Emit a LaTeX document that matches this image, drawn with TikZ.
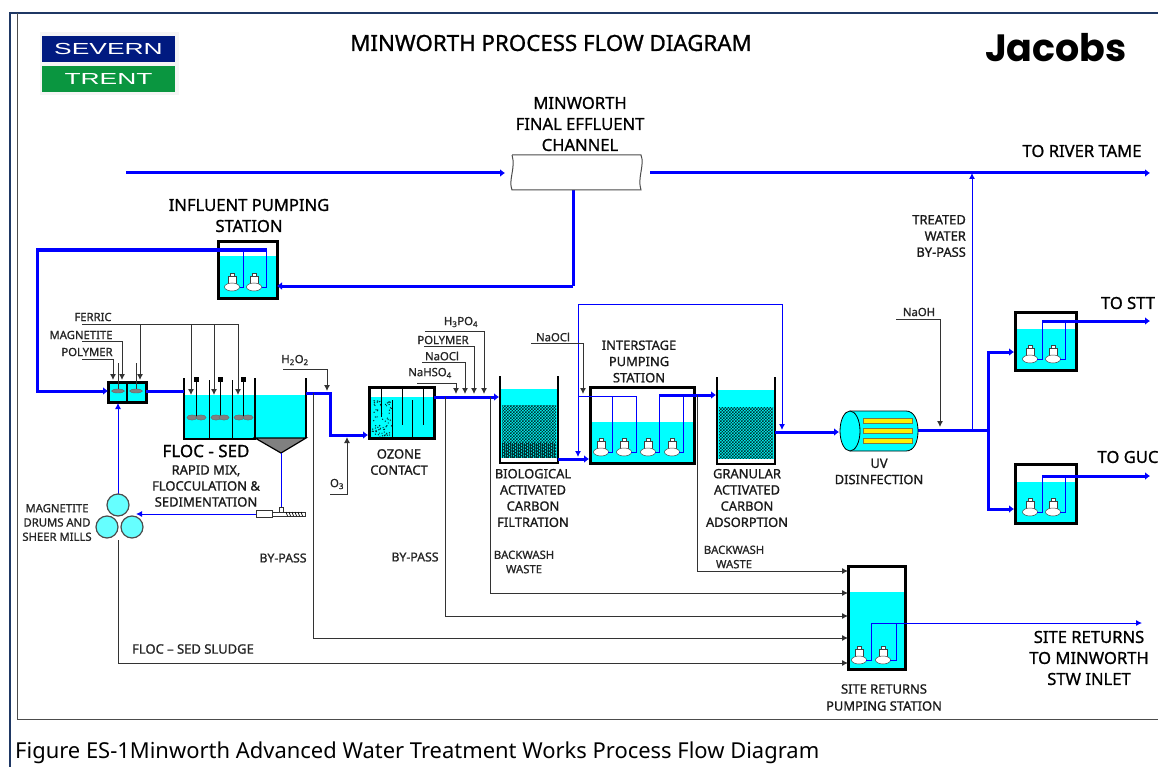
\documentclass[tikz,border=0pt]{standalone}
\usepackage{amsmath}
\usepackage{fontspec}
\setmainfont{Noto Sans}[FakeBold=1]
\newfontfamily\captionfont{Noto Sans}
\newfontfamily\logofont{Liberation Sans}
\newfontfamily\jacobsfont{Poppins}
\usetikzlibrary{shapes.geometric, arrows.meta, patterns}
\usepackage{xcolor}
\definecolor{waterc}{HTML}{00FFFF}
\definecolor{pipeblue}{HTML}{0000FF}
\definecolor{framenavy}{HTML}{1F3864}
\definecolor{drumc}{HTML}{66FFFF}
\definecolor{inkc}{HTML}{1A1A1A}
\definecolor{sevblue}{HTML}{001A80}
\definecolor{trentgreen}{HTML}{0A9640}
\definecolor{mediac}{HTML}{003333}
\pgfdeclarepatternformonly{mediacheck}{\pgfqpoint{-0.1pt}{-0.1pt}}{\pgfqpoint{3.1pt}{3.1pt}}{\pgfqpoint{3pt}{3pt}}{
    \pgfpathrectangle{\pgfqpoint{0pt}{0pt}}{\pgfqpoint{1.5pt}{1.5pt}}
    \pgfpathrectangle{\pgfqpoint{1.5pt}{1.5pt}}{\pgfqpoint{1.5pt}{1.5pt}}
    \pgfusepath{fill}
}
\pgfdeclarepatternformonly{mediastripe}{\pgfqpoint{-0.1pt}{-0.1pt}}{\pgfqpoint{2.1pt}{2.1pt}}{\pgfqpoint{2pt}{2pt}}{
    \pgfpathrectangle{\pgfqpoint{0pt}{0pt}}{\pgfqpoint{1pt}{2pt}}
    \pgfusepath{fill}
}
\tikzset{
    pipe/.style={pipeblue, line width=3pt, -{Latex[length=5pt,width=8pt]}},
    pipeplain/.style={pipeblue, line width=3pt, line join=round},
    thinblue/.style={pipeblue, line width=0.9pt},
    thinarrow/.style={pipeblue, line width=0.9pt, -{Latex[length=6pt,width=6pt]}},
    dose/.style={black!80, line width=0.9pt, -{Latex[length=6pt,width=6pt]}},
    tankbox/.style={draw=black, line width=3pt, minimum width=#1, inner sep=0pt, outer sep=0pt},
    opentank/.style={minimum width=#1, inner sep=0pt, outer sep=0pt},
    wall/.style={black, line width=2.2pt},
    water/.style={fill=waterc},
    lbl/.style={inkc, font=\fontsize{12.9}{16.2}\selectfont, inner sep=0pt, align=center},
    lblsm/.style={black!85, font=\fontsize{11.3}{14.3}\selectfont, inner sep=0pt, align=center},
    lblbig/.style={black, font=\fontsize{16.6}{21}\selectfont, inner sep=0pt, align=center}
}
\begin{document}
\begin{tikzpicture}[x=1pt,y=-1pt]
    \useasboundingbox (0,0) rectangle (1158,767);
    \fill[white] (0,0) rectangle (1158,767);
    \draw[framenavy, line width=2pt] (1158,13) -- (10,13) -- (10,767);
    \draw[black!70, line width=1pt] (1158,719) -- (17,719) -- (17,13);

    \fill[black!4] (40,32) rectangle (179,95);
    \node[fill=sevblue, minimum width=133, minimum height=26, inner sep=0pt, text=white, font=\logofont\fontsize{16}{16}\selectfont] (severn) at (108.5,49) {\scalebox{1.65}[1]{SEVERN}};
    \node[fill=trentgreen, minimum width=133, minimum height=26, inner sep=0pt, text=white, font=\logofont\fontsize{16}{16}\selectfont] (trent) at (108.5,79) {\scalebox{1.65}[1]{TRENT}};
    \node[font=\fontsize{22.3}{26}\selectfont, inner sep=0pt] (title) at (551,43) {MINWORTH PROCESS FLOW DIAGRAM};
    \node[font=\jacobsfont\bfseries\fontsize{38}{40}\selectfont, inner sep=0pt] (jacobs) at (1056,48) {Jacobs};
    \node[font=\captionfont\fontsize{21.95}{26}\selectfont, anchor=west, inner sep=0pt] (caption) at (15,752.5) {Figure ES-1Minworth Advanced Water Treatment Works Process Flow Diagram};

    \foreach \cname/\cx/\cy in {
        feedstart/126/173, chanin/505/173, chanout/643/173, rivertame/1150/173, chanbot/573/190,
        retcorner/573/286, influentin/277/286, inftop/267/250, infleft/37/250, mixleft/37/391,
        mixin/108/391, mixout/146/391, flocin/184/391, sedout/306/393, sedturn/330/393,
        sedlow/330/435, ozin/368/435, ozout/434/397, bafin/499/397, bafout/558/459, ispsin/589/459,
        ispsrise/659/395, gacin/716/395, gacout/775/432, uvin/839/432, uvout/918/430, splitj/988/430,
        splittop/988/352, splitbot/988/509, sttin/1014/352, gucin/1014/509, sttstart/1042/321,
        sttend/1150/321, gucstart/1042/476, gucend/1150/476, bypassj/972/430, bypasstop/972/173,
        wastea/697/395, wasteb/490/397, wastec/445/397, wasted/313/393, sludgetop/118/540,
        sitea/848/571, siteb/848/593, sitec/848/616, sited/848/638, sitee/848/663,
        siteout/1142/623, sitepa/871/623, sitepb/896/623, hopperbot/281/453, screwtop/281/507,
        screwleft/256/514, drumin/136/514, drumtop/118/494, mixbot/118/403,
        recycleleft/578/304, recycleright/782/304, recycleend/782/430, recyclelow/578/457
    } \coordinate (\cname) at (\cx,\cy);

    \fill[water] (184,395) rectangle (306,439);
    \fill[water] (219,256) rectangle (276,297);
    \fill[water] (109,384) rectangle (145,401);
    \fill[water] (370,397) rectangle (433,437);
    \fill[water] (591,422) rectangle (693,462);
    \fill[water] (1016,329) rectangle (1075,369);
    \fill[water] (1016,482) rectangle (1075,522);
    \fill[water] (849,592) rectangle (904,668);
    \fill[water] (501,389) rectangle (557,458);
    \fill[water] (718,390) rectangle (774,459);

    \node[tankbox=59, minimum height=56] (influent) at (247.5,270) {};
    \node[tankbox=38, minimum height=20] (mixbox) at (127,392) {};
    \node[opentank=122, minimum height=61] (flocsed) at (245,408.5) {};
    \node[tankbox=65, minimum height=51] (ozone) at (401.5,412.5) {};
    \node[opentank=58, minimum height=87] (baf) at (529,419.5) {};
    \node[tankbox=104, minimum height=76] (isps) at (642,425) {};
    \node[opentank=58, minimum height=87] (gac) at (746,420.5) {};
    \node[tankbox=61, minimum height=58] (sttbox) at (1045.5,341) {};
    \node[tankbox=61, minimum height=59] (gucbox) at (1045.5,493.5) {};
    \node[tankbox=57, minimum height=103] (sitebox) at (876.5,617.5) {};

    \fill[pattern=mediacheck, pattern color=mediac] (502,405) rectangle (556,458);
    \fill[pattern=mediastripe, pattern color=mediac] (502,443) rectangle (556,458);
    \fill[pattern=mediacheck, pattern color=mediac] (719,407) rectangle (773,459);
    \fill[white] (502,458) rectangle (556,462);
    \fill[white] (719,459) rectangle (773,463);
    \draw[wall] (baf.north west) |- (baf.south east) -- (baf.north east);
    \draw[wall] (gac.north west) |- (gac.south east) -- (gac.north east);

    \draw[wall] (184,378) |- (255,439) -- (255,378);
    \draw[wall] (306,378) -- (306,438);
    \filldraw[fill=gray, draw=black, line width=1.2pt] (255,438) -- (281,453) -- (306,438) -- cycle;
    \draw[black, line width=0.8pt] (209,380) -- (209,439);
    \draw[black, line width=0.8pt] (232,380) -- (232,439);
    \foreach \mx/\ea/\eb in {196/192/201, 220/216/224, 243/239/248} {
        \draw[black, line width=0.8pt] (\mx,379) -- (\mx,417);
        \fill[black] (\mx-2.5,376.5) rectangle (\mx+2.5,381.5);
        \filldraw[fill=gray, draw=black!60, line width=0.4pt] (\ea,417.5) ellipse (5 and 2.6);
        \filldraw[fill=gray, draw=black!60, line width=0.4pt] (\eb,417.5) ellipse (5 and 2.6);
    }

    \draw[black, line width=2.5pt] (127,382) -- (127,402);
    \foreach \mx in {118,136} {
        \draw[black!80, line width=0.8pt] (\mx,363) -- (\mx,391);
        \filldraw[fill=gray, draw=black!60, line width=0.4pt] (\mx,391) ellipse (6.5 and 2);
    }

    \pgfmathsetseed{17}
    \foreach \dotnum in {1,...,70} {
        \fill[black!65!teal] (372+20*rnd,399+38*rnd) circle (0.7);
    }
    \draw[black, line width=0.8pt] (381,388) -- (381,417);
    \draw[black, line width=0.8pt] (392,400) -- (392,437);
    \draw[black, line width=0.8pt] (402,388) -- (402,425);
    \draw[black, line width=0.8pt] (412,400) -- (412,437);
    \draw[black, line width=0.8pt] (423,388) -- (423,425);

    \foreach \px/\py in {232/287, 254/287, 601/452, 624/452, 648/452, 672/452, 1030/359, 1053/359, 1030/512, 1053/512, 859/660, 883/660} {
        \filldraw[fill=white, draw=black!75, line width=0.5pt] (\px-2,\py-14) rectangle (\px+2,\py-11);
        \filldraw[fill=white, draw=black!75, line width=0.5pt] (\px-4,\py-11) -- (\px+4,\py-11) -- (\px+4,\py-3) -- (\px-4,\py-3) -- cycle;
        \filldraw[fill=white, draw=black!75, line width=0.5pt] (\px,\py) ellipse (7.5 and 4);
    }

    \draw[thinblue] (240,287) -- (243,287) -- (243,250);
    \draw[thinblue] (262,287) -- (266,287) -- (266,250);
    \draw[pipe] (inftop) -- (infleft) -- (mixleft) -- (mixin);
    \draw[pipe] (feedstart) -- (chanin);
    \draw[pipe] (chanout) ++(7,0) -- (rivertame);
    \draw[pipeplain] (chanbot) -- (retcorner);
    \draw[pipe] (retcorner) -- (influentin);
    \draw[pipeplain] (mixout) -- (flocin);
    \draw[pipe] (sedout) -- (sedturn) -- (sedlow) -- (ozin);
    \draw[pipe] (ozout) -- (bafin);
    \draw[pipe] (bafout) -- (ispsin);
    \draw[pipe] (ispsrise) -- (gacin);
    \draw[pipe] (gacout) -- (uvin);
    \draw[pipeplain] (uvout) -- (splitj);
    \draw[pipe] (splitj) -- (splittop) -- (sttin);
    \draw[pipe] (splitj) -- (splitbot) -- (gucin);
    \draw[pipe] (sttstart) -- (sttend);
    \draw[pipe] (gucstart) -- (gucend);
    \draw[thinarrow] (bypassj) -- (bypasstop);

    \filldraw[fill=white, draw=black!70, line width=1pt] (512,155) -- (641,155) .. controls (645,165) and (637,178) .. (641,190) -- (512,190) .. controls (508,180) and (516,168) .. (512,155);

    \draw[thinblue] (608,452) -- (612,452) -- (612,396);
    \draw[thinblue] (631,452) -- (636,452) -- (636,396) -- (578,396);
    \draw[thinblue] (655,452) -- (659,452) -- (659,395);
    \draw[thinblue] (679,452) -- (683,452) -- (683,395);
    \draw[thinarrow] (recycleright) -- (recycleleft) -- (recyclelow);
    \draw[thinarrow] (recycleleft) -- (recycleright) -- (recycleend);
    \draw[thinblue] (1037,359) -- (1042,359) -- (sttstart);
    \draw[thinblue] (1060,359) -- (1065,359) -- (1065,321);
    \draw[thinblue] (1037,512) -- (1042,512) -- (gucstart);
    \draw[thinblue] (1060,512) -- (1065,512) -- (1065,476);
    \draw[thinblue] (866,660) -- (871,660) -- (sitepa);
    \draw[thinblue] (890,660) -- (896,660) -- (sitepb);
    \draw[thinarrow] (sitepa) -- (siteout);

    \draw[dose] (82,324) -- (238,324) -- (238,395);
    \draw[dose] (140,324) -- (140,380);
    \draw[dose] (191,324) -- (191,395);
    \draw[dose] (214,324) -- (214,395);
    \draw[dose] (82,341) -- (122,341) -- (122,380);
    \draw[dose] (82,359) -- (113,359) -- (113,380);
    \draw[dose] (283,369) -- (327,369) -- (327,391);
    \draw[dose] (330,494) -- (347,494) -- (347,437);
    \draw[dose] (417,383) -- (456,383) -- (456,394);
    \draw[dose] (422,362) -- (465,362) -- (465,394);
    \draw[dose] (424,346) -- (474,346) -- (474,394);
    \draw[dose] (425,331) -- (484,331) -- (484,394);
    \draw[dose] (531,343) -- (583,343) -- (583,394);
    \draw[dose] (896,319) -- (940,319) -- (940,427);
    \draw[dose] (wastea) |- (sitea);
    \draw[dose] (wasteb) |- (siteb);
    \draw[dose] (wastec) |- (sitec);
    \draw[dose] (wasted) |- (sited);
    \draw[dose] (sludgetop) |- (sitee);

    \draw[thinblue] (hopperbot) -- (screwtop);
    \filldraw[fill=white, draw=black!80, line width=0.6pt] (279,507) rectangle (283,512);
    \filldraw[fill=white, draw=black!80, line width=0.6pt] (272,512) rectangle (305,516);
    \filldraw[fill=white, draw=black!80, line width=0.6pt] (256,510) rectangle (272,517);
    \foreach \sx in {286,289,...,303} {
        \draw[black, line width=0.7pt] (\sx,512) -- (\sx+1.5,516);
    }
    \draw[thinarrow] (screwleft) -- (drumin);
    \draw[thinarrow] (drumtop) -- (mixbot);

    \node[circle, draw=black!70, fill=drumc, line width=1.2pt, minimum size=22, inner sep=0pt] (drumA) at (118,505) {};
    \node[circle, draw=black!70, fill=drumc, line width=1.2pt, minimum size=22, inner sep=0pt] (drumB) at (107,527) {};
    \node[circle, draw=black!70, fill=drumc, line width=1.2pt, minimum size=22, inner sep=0pt] (drumC) at (132,527) {};

    \filldraw[fill=waterc, draw=black, line width=0.8pt] (850,411) -- (906,411) .. controls (914,411) and (918,420) .. (918,431) .. controls (918,442) and (914,451) .. (906,451) -- (850,451) -- cycle;
    \filldraw[fill=waterc, draw=black, line width=0.8pt] (850,431) ellipse (10 and 20);
    \foreach \by in {421,431,441} {
        \filldraw[fill=yellow, draw=black!60!yellow, line width=0.7pt] (863,\by-2.5) rectangle (912,\by+2.5);
    }

    \node[lblbig] (lblchannel) at (580,124) {MINWORTH\\FINAL EFFLUENT\\CHANNEL};
    \node[lblbig] (lblriver) at (1082,151) {TO RIVER TAME};
    \node[lblbig] (lblinfluent) at (249,215.5) {INFLUENT PUMPING\\STATION};
    \node[lblbig] (lblstt) at (1128,303) {TO STT};
    \node[lblbig] (lblguc) at (1128,457) {TO GUC};
    \node[lblbig] (lblsiteout) at (1089,658) {SITE RETURNS\\TO MINWORTH\\STW INLET};
    \node[black, font=\fontsize{17}{20}\selectfont, inner sep=0pt] (lblfloc) at (206,451) {FLOC - SED};
    \node[lbl, font=\fontsize{13}{16}\selectfont] (lblrapid) at (206,486) {RAPID MIX,\\FLOCCULATION \&\\SEDIMENTATION};
    \node[lblsm] (lblferric) at (93,317) {FERRIC};
    \node[lblsm] (lblmagnetite) at (81,335) {MAGNETITE};
    \node[lblsm] (lblpolyA) at (87,352) {POLYMER};
    \node[lblsm] (lblhtwo) at (295,360) {H\textsubscript{2}O\textsubscript{2}};
    \node[lblsm] (lblothree) at (337,484) {O\textsubscript{3}};
    \node[lblsm] (lbldrums) at (57,522.5) {MAGNETITE\\DRUMS AND\\SHEER MILLS};
    \node[lblsm] (lblhthree) at (461,322) {H\textsubscript{3}PO\textsubscript{4}};
    \node[lblsm] (lblpolyB) at (443,340) {POLYMER};
    \node[lblsm] (lblnaoclA) at (442,356) {NaOCl};
    \node[lblsm] (lblnahso) at (430,373) {NaHSO\textsubscript{4}};
    \node[lblsm] (lblnaoclB) at (553,337) {NaOCl};
    \node[lblsm] (lblnaoh) at (919,312) {NaOH};
    \node[lbl] (lblozone) at (399,462) {OZONE\\CONTACT};
    \node[lbl] (lblbiological) at (533,498) {BIOLOGICAL\\ACTIVATED\\CARBON\\FILTRATION};
    \node[lbl] (lblinterstage) at (639,361.5) {INTERSTAGE\\PUMPING\\STATION};
    \node[lbl] (lblgranular) at (747,498) {GRANULAR\\ACTIVATED\\CARBON\\ADSORPTION};
    \node[lbl] (lbluv) at (879,471.5) {UV\\DISINFECTION};
    \node[lbl, align=right, anchor=east] (lbltreated) at (966,236) {TREATED\\WATER\\BY-PASS};
    \node[lblsm, font=\fontsize{12.3}{14}\selectfont] (lblbypassA) at (283,558) {BY-PASS};
    \node[lblsm, font=\fontsize{12.3}{14}\selectfont] (lblbypassB) at (415,557) {BY-PASS};
    \node[lblsm] (lblbackA) at (524,562) {BACKWASH\\WASTE};
    \node[lblsm] (lblbackB) at (734,557) {BACKWASH\\WASTE};
    \node[lblsm, font=\fontsize{13}{14}\selectfont] (lblsludge) at (193,649) {FLOC -- SED SLUDGE};
    \node[lbl, font=\fontsize{12.9}{17}\selectfont] (lblsitepump) at (884,697.5) {SITE RETURNS\\PUMPING STATION};
\end{tikzpicture}
\end{document}
